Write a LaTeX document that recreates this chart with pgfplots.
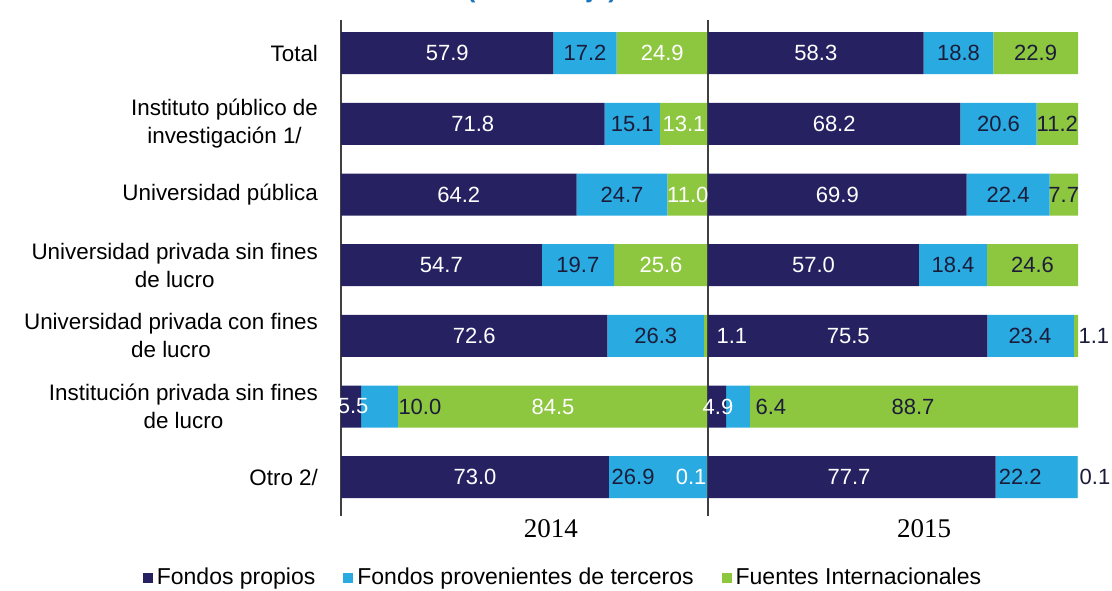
\documentclass[border=0pt]{standalone}
\usepackage{pgfplots}
\pgfplotsset{compat=1.18}
\usepackage{pgfplotstable}
\usepackage{fontspec}
\setmainfont{Liberation Sans}
\newfontfamily\yearfont{Liberation Serif}
\definecolor{navy}{HTML}{262262}
\definecolor{lblue}{HTML}{29ABE2}
\definecolor{lgreen}{HTML}{8DC63F}
\definecolor{darklab}{HTML}{1C1C3A}
\definecolor{titleblue}{HTML}{1B75BC}

\pgfplotstableread{
idx fp ft fi
0 57.9 17.2 24.9
1 71.8 15.1 13.1
2 64.2 24.7 11.0
3 54.7 19.7 25.6
4 72.6 26.3 1.1
5 5.5 10.0 84.5
6 73.0 26.9 0.1
}\dataA
\pgfplotstableread{
idx fp ft fi
0 58.3 18.8 22.9
1 68.2 20.6 11.2
2 69.9 22.4 7.7
3 57.0 18.4 24.6
4 75.5 23.4 1.1
5 4.9 6.4 88.7
6 77.7 22.2 0.1
}\dataB
% label positions (percent) and texts
\pgfplotstableread{
pos idx lab
28.95 0 57.9
87.55 0 24.9
35.9 1 71.8
93.45 1 13.1
32.1 2 64.2
94.5 2 11.0
27.35 3 54.7
87.2 3 25.6
36.3 4 72.6
106.5 4 1.1
3.3 5 5.5
57.75 5 84.5
36.5 6 73.0
95.4 6 0.1
}\labAw
\pgfplotstableread{
pos idx lab
66.5 0 17.2
79.35 1 15.1
76.55 2 24.7
64.55 3 19.7
85.75 4 26.3
21.5 5 10.0
79.6 6 26.9
}\labAd
\pgfplotstableread{
pos idx lab
29.15 0 58.3
34.1 1 68.2
34.95 2 69.9
28.5 3 57.0
37.9 4 75.5
2.7 5 4.9
38.1 6 77.7
}\labBw
\pgfplotstableread{
pos idx lab
67.7 0 18.8
88.55 0 22.9
78.5 1 20.6
94.4 1 11.2
81.1 2 22.4
96.15 2 7.7
66.2 3 18.4
87.7 3 24.6
87.0 4 23.4
104.3 4 1.1
17.0 5 6.4
55.4 5 88.7
84.4 6 22.2
104.6 6 0.1
}\labBd

\pgfplotsset{
  panel/.style={
    scale only axis, height=248pt,
    xmin=0, xmax=100, ymin=-0.47, ymax=6.55, y dir=reverse,
    anchor=south west,
  },
  barpanel/.style={panel, xbar stacked, bar width=21pt,
    hide x axis, axis y line*=left,
    axis line style={-, draw=black!75, line width=0.9pt},
    major tick length=0pt},
  labpanel/.style={panel, hide axis, clip=false},
  labw/.style={draw=none, mark=none, nodes near coords, point meta=explicit symbolic,
    every node near coord/.append style={anchor=center, text=white, font=\fontsize{11}{12}\selectfont}},
  labd/.style={draw=none, mark=none, nodes near coords, point meta=explicit symbolic,
    every node near coord/.append style={anchor=center, text=darklab, font=\fontsize{11}{12}\selectfont}},
}

\begin{document}
\begin{tikzpicture}
\useasboundingbox (0pt,0pt) rectangle (556pt,-295pt);
\node[anchor=base, font=\bfseries\fontsize{13}{15}\selectfont, text=titleblue] at (271pt,1.3pt) {(Porcentaje)};

% ---- 2014 panel ----
\begin{axis}[barpanel, at={(170.5pt,-258pt)}, width=183.5pt,
  ytick={0,...,6},
  yticklabels={Total, {Instituto público de\\investigación 1/}, Universidad pública,
    {Universidad privada sin fines\\de lucro}, {Universidad privada con fines\\de lucro},
    {Institución privada sin fines\\de lucro}, Otro 2/},
  yticklabel style={align=center, font=\fontsize{11.2}{14}\selectfont, xshift=-8pt},
  legend style={at={(0.6076,-0.125)}, anchor=center, draw=none, fill=none,
    legend columns=3, font=\fontsize{11.5}{13}\selectfont,
    /tikz/every even column/.append style={column sep=12pt}},
  legend cell align=left,
  legend image code/.code={\fill[#1] (0pt,-2.7pt) rectangle (5pt,2.7pt);},
]
\addplot[fill=navy, draw=none] table[x=fp, y=idx] {\dataA};
\addplot[fill=lblue, draw=none] table[x=ft, y=idx] {\dataA};
\addplot[fill=lgreen, draw=none] table[x=fi, y=idx] {\dataA};
\legend{Fondos propios, Fondos provenientes de terceros, Fuentes Internacionales}
\end{axis}

% ---- 2015 panel ----
\begin{axis}[barpanel, at={(354pt,-258pt)}, width=185pt, ytick=\empty]
\addplot[fill=navy, draw=none] table[x=fp, y=idx] {\dataB};
\addplot[fill=lblue, draw=none] table[x=ft, y=idx] {\dataB};
\addplot[fill=lgreen, draw=none] table[x=fi, y=idx] {\dataB};
\end{axis}

% ---- labels 2014 ----
\begin{axis}[labpanel, at={(170.5pt,-258pt)}, width=183.5pt]
\addplot[labw] table[x=pos, y=idx, meta=lab] {\labAw};
\addplot[labd] table[x=pos, y=idx, meta=lab] {\labAd};
\node[font=\yearfont\fontsize{13.5}{15}\selectfont] at (axis description cs:0.572,-0.026) {2014};
\end{axis}

% ---- labels 2015 ----
\begin{axis}[labpanel, at={(354pt,-258pt)}, width=185pt]
\addplot[labw] table[x=pos, y=idx, meta=lab] {\labBw};
\addplot[labd] table[x=pos, y=idx, meta=lab] {\labBd};
\node[font=\yearfont\fontsize{13.5}{15}\selectfont] at (axis description cs:0.584,-0.026) {2015};
\end{axis}
\end{tikzpicture}
\end{document}
